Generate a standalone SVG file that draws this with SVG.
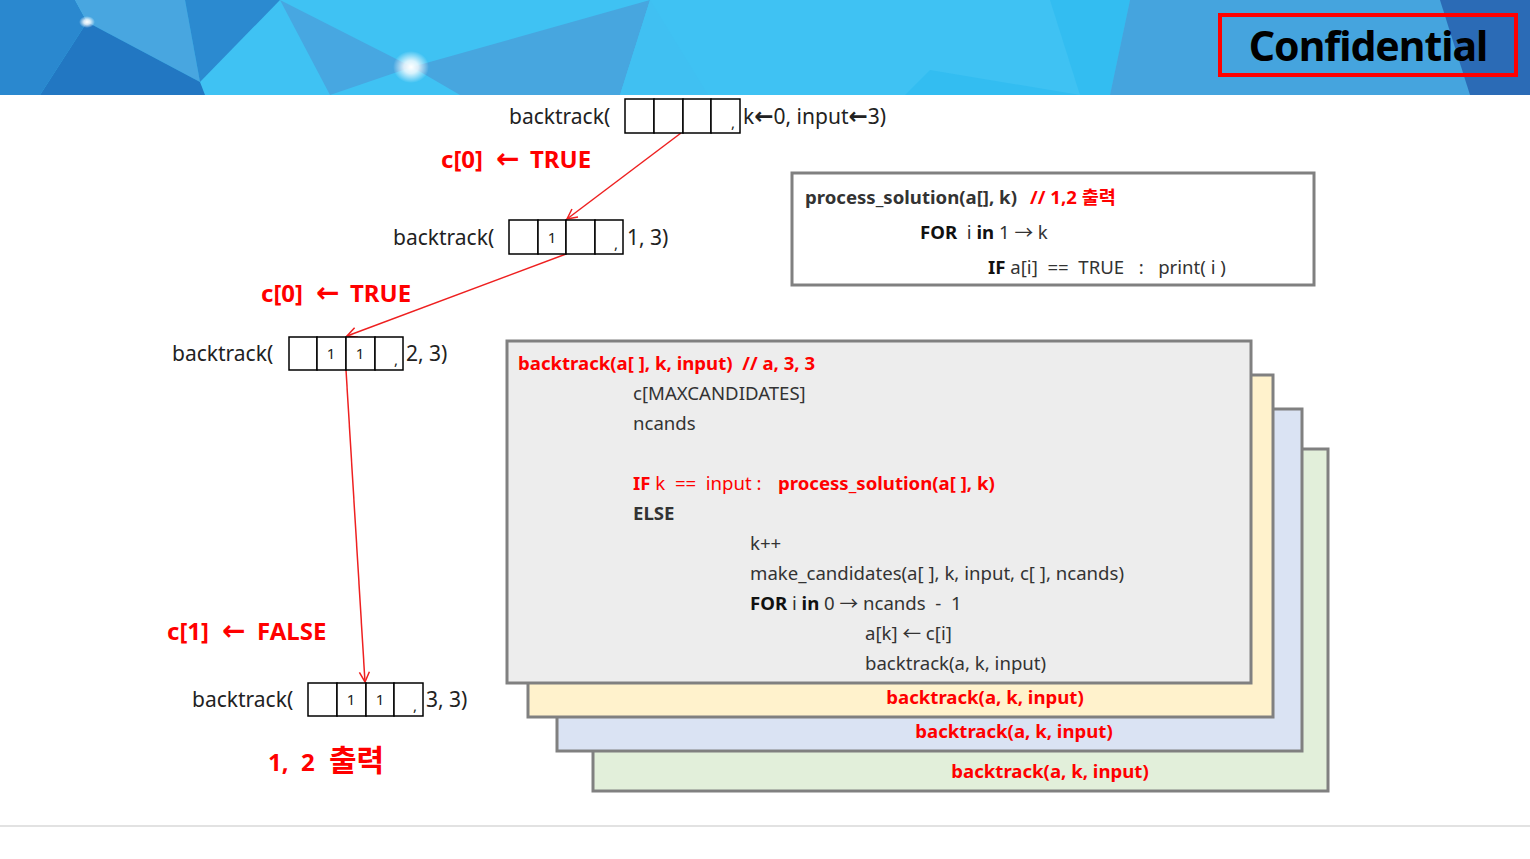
<svg xmlns="http://www.w3.org/2000/svg" width="1530" height="859" viewBox="0 0 1530 859">
<style>
text{font-family:"Noto Sans","Noto Sans CJK KR",sans-serif;white-space:pre;}
.call{font-size:21px;fill:#222;}
.cell{fill:#fff;stroke:#000;stroke-width:1.5;}
.num{font-size:15px;fill:#222;text-anchor:middle;}
.lbl{font-size:24px;font-weight:bold;fill:#ff0000;}
.arr{font-family:"DejaVu Sans",sans-serif;font-weight:bold;}
.code{font-size:18.6px;fill:#333;}
.b{font-weight:bold;}
.red{fill:#ff0000;}
.frame{stroke:#808080;stroke-width:3;}
.edge{stroke:#ee2020;stroke-width:1.5;fill:none;}
</style>
<defs>
<marker id="ah" viewBox="0 0 12 12" refX="11" refY="6" markerWidth="12" markerHeight="12" markerUnits="userSpaceOnUse" orient="auto">
<path d="M1,1 L11,6 L1,11" fill="none" stroke="#ee2020" stroke-width="1.5"/>
</marker>
<radialGradient id="spark">
<stop offset="0" stop-color="#fff" stop-opacity="1"/>
<stop offset="0.4" stop-color="#fff" stop-opacity="0.8"/>
<stop offset="1" stop-color="#fff" stop-opacity="0"/>
</radialGradient>
<clipPath id="hclip"><rect x="0" y="0" width="1530" height="95"/></clipPath>
</defs>
<rect width="1530" height="859" fill="#fff"/>
<!-- header -->
<g id="header">
<g clip-path="url(#hclip)">
<rect x="0" y="0" width="1530" height="95" fill="#3fc2f3"/>
<polygon points="0,0 75,0 87,22 40,95 0,95" fill="#2a88cf"/>
<polygon points="75,0 185,0 200,82 87,22" fill="#48a6e0"/>
<polygon points="87,22 200,82 205,95 40,95" fill="#2277c2"/>
<polygon points="185,0 280,0 200,82" fill="#2b8ad0"/>
<polygon points="280,0 412,67 330,95" fill="#47a7e1"/>
<polygon points="412,67 650,0 620,95 460,95" fill="#47a6df"/>
<polygon points="650,0 760,180 690,95 620,95" fill="#40c0f2"/>
<polygon points="1050,0 1130,0 1110,95 1080,95" fill="#33bdf1"/>
<polygon points="1130,0 1440,0 1530,40 1530,95 1110,95" fill="#45a4de"/>
<polygon points="1440,0 1530,0 1530,95 1470,95" fill="#2b6bb6"/>
<polygon points="905,95 930,70 1080,95" fill="#33bdf1"/>
<ellipse cx="87" cy="22" rx="8" ry="6" fill="url(#spark)"/>
<ellipse cx="411" cy="67" rx="18" ry="16" fill="url(#spark)"/>
</g>
<rect x="1220" y="15" width="296" height="60" fill="none" stroke="#ff0000" stroke-width="4"/>
<text x="1368" y="61" text-anchor="middle" font-size="41" font-weight="bold" fill="#000" letter-spacing="-1">Confidential</text>
</g>
<line x1="0" y1="826" x2="1530" y2="826" stroke="#d9d9d9" stroke-width="1.5"/>

<!-- connectors -->
<g id="connectors">
<line class="edge" x1="681" y1="133" x2="567" y2="219" marker-end="url(#ah)"/>
<line class="edge" x1="566" y1="254" x2="347" y2="336" marker-end="url(#ah)"/>
<line class="edge" x1="346" y1="370" x2="365" y2="682" marker-end="url(#ah)"/>
</g>

<g id="lbl1"><text class="lbl" y="168"><tspan x="441">c[0]</tspan><tspan class="arr" x="496" font-size="28">←</tspan><tspan x="530">TRUE</tspan></text></g>
<g id="lbl2"><text class="lbl" y="302"><tspan x="261">c[0]</tspan><tspan class="arr" x="316" font-size="28">←</tspan><tspan x="350">TRUE</tspan></text></g>
<g id="lbl3"><text class="lbl" y="640"><tspan x="167">c[1]</tspan><tspan class="arr" x="222" font-size="28">←</tspan><tspan x="257">FALSE</tspan></text></g>
<g id="out"><text class="lbl" y="771" font-size="28"><tspan x="268">1,</tspan><tspan x="301">2</tspan><tspan x="329" font-size="30">출력</tspan></text></g>

<!-- call 0 -->
<g id="call0">
<text class="call" x="509" y="124">backtrack(</text>
<rect class="cell" x="625" y="99" width="29" height="34"/>
<rect class="cell" x="654" y="99" width="29" height="34"/>
<rect class="cell" x="683" y="99" width="28" height="34"/>
<rect class="cell" x="711" y="99" width="29" height="34"/>
<text class="num" x="733" y="128">,</text>
<text class="call" x="743" y="124">k<tspan class="arr" font-size="23">←</tspan>0, input<tspan class="arr" font-size="23">←</tspan>3)</text>
</g>
<!-- call 1 -->
<g id="call1">
<text class="call" x="393" y="245">backtrack(</text>
<rect class="cell" x="509" y="220" width="29" height="34"/>
<rect class="cell" x="538" y="220" width="28" height="34"/>
<rect class="cell" x="566" y="220" width="29" height="34"/>
<rect class="cell" x="595" y="220" width="28" height="34"/>
<text class="num" x="552" y="243">1</text>
<text class="num" x="616" y="249">,</text>
<text class="call" x="627" y="245">1, 3)</text>
</g>
<!-- call 2 -->
<g id="call2">
<text class="call" x="172" y="361">backtrack(</text>
<rect class="cell" x="289" y="337" width="28" height="33"/>
<rect class="cell" x="317" y="337" width="29" height="33"/>
<rect class="cell" x="346" y="337" width="29" height="33"/>
<rect class="cell" x="375" y="337" width="28" height="33"/>
<text class="num" x="331" y="359">1</text>
<text class="num" x="360" y="359">1</text>
<text class="num" x="396" y="365">,</text>
<text class="call" x="406" y="361">2, 3)</text>
</g>
<!-- call 3 -->
<g id="call3">
<text class="call" x="192" y="707">backtrack(</text>
<rect class="cell" x="308" y="683" width="29" height="33"/>
<rect class="cell" x="337" y="683" width="29" height="33"/>
<rect class="cell" x="366" y="683" width="28" height="33"/>
<rect class="cell" x="394" y="683" width="29" height="33"/>
<text class="num" x="351" y="705">1</text>
<text class="num" x="380" y="705">1</text>
<text class="num" x="415" y="711">,</text>
<text class="call" x="426" y="707">3, 3)</text>
</g>

<!-- process_solution -->
<g id="process_solution">
<rect class="frame" x="792" y="173" width="522" height="112" fill="#fff"/>
<text class="code b" x="805" y="204" fill="#111">process_solution(a[], k)</text>
<text class="code b red" x="1030" y="204">// 1,2 출력</text>
<text class="code" x="920" y="239" fill="#222"><tspan class="b" fill="#111">FOR</tspan>  i <tspan class="b" fill="#111">in</tspan> 1 → k</text>
<text class="code" x="988" y="274" fill="#222"><tspan class="b" fill="#111">IF</tspan> a[i]  ==  TRUE   :   print( i )</text>
</g>

<!-- stacked frames -->
<g id="frame4">
<rect class="frame" x="593" y="449" width="735" height="342" fill="#e2efda"/>
<text class="code b red" x="1050" y="778" text-anchor="middle">backtrack(a, k, input)</text>
</g>
<g id="frame3">
<rect class="frame" x="557" y="409" width="745" height="342" fill="#dae3f3"/>
<text class="code b red" x="1014" y="738" text-anchor="middle">backtrack(a, k, input)</text>
</g>
<g id="frame2">
<rect class="frame" x="528" y="375" width="745" height="342" fill="#fff2cc"/>
<text class="code b red" x="985" y="704" text-anchor="middle">backtrack(a, k, input)</text>
</g>
<g id="frame1">
<rect class="frame" x="507" y="341" width="744" height="342" fill="#ededed"/>
<text class="code b red" x="518" y="370">backtrack(a[ ], k, input)  // a, 3, 3</text>
<text class="code" x="633" y="400">c[MAXCANDIDATES]</text>
<text class="code" x="633" y="430">ncands</text>
<text class="code red" x="633" y="490"><tspan class="b">IF</tspan> k  ==  input : </text>
<text class="code b red" x="778" y="490">process_solution(a[ ], k)</text>
<text class="code b" x="633" y="520" fill="#111">ELSE</text>
<text class="code" x="750" y="550">k++</text>
<text class="code" x="750" y="580">make_candidates(a[ ], k, input, c[ ], ncands)</text>
<text class="code" x="750" y="610"><tspan class="b" fill="#111">FOR</tspan> i <tspan class="b" fill="#111">in</tspan> 0 → ncands  -  1</text>
<text class="code" x="865" y="640">a[k] ← c[i]</text>
<text class="code" x="865" y="670">backtrack(a, k, input)</text>
</g>
</svg>
